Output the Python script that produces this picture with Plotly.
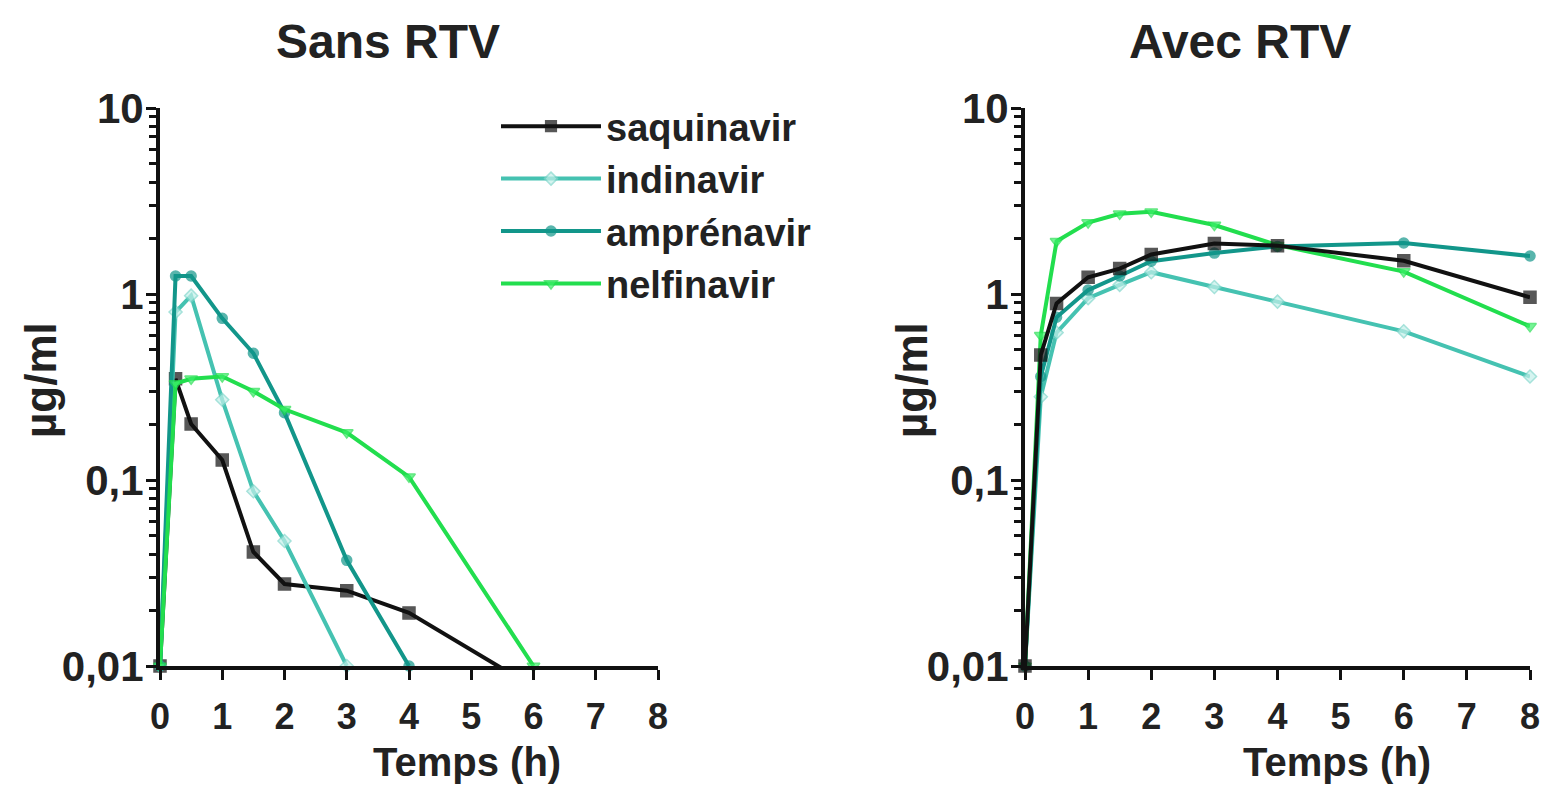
import plotly.graph_objects as go

# ---------------- data ----------------
drugs = ["saquinavir", "indinavir", "amprénavir", "nelfinavir"]

# Sans RTV (left panel)
t_saq_sans = [0, 0.25, 0.5, 1, 1.5, 2, 3, 4, 6]
v_saq_sans = [0.01, 0.35, 0.2, 0.128, 0.041, 0.0276, 0.0254, 0.0193, 0.0077]
t_ind_sans = [0, 0.25, 0.5, 1, 1.5, 2, 3]
v_ind_sans = [0.01, 0.8, 0.98, 0.27, 0.087, 0.047, 0.01]
t_amp_sans = [0, 0.25, 0.5, 1, 1.5, 2, 3, 4]
v_amp_sans = [0.01, 1.25, 1.25, 0.74, 0.48, 0.23, 0.037, 0.01]
t_nel_sans = [0, 0.25, 0.5, 1, 1.5, 2, 3, 4, 6]
v_nel_sans = [0.01, 0.33, 0.35, 0.36, 0.30, 0.24, 0.18, 0.104, 0.01]

# Avec RTV (right panel)
t_avec = [0, 0.25, 0.5, 1, 1.5, 2, 3, 4, 6, 8]
v_saq_avec = [0.01, 0.47, 0.89, 1.23, 1.37, 1.63, 1.87, 1.82, 1.51, 0.96]
v_ind_avec = [0.01, 0.28, 0.62, 0.95, 1.12, 1.31, 1.09, 0.91, 0.63, 0.36]
v_amp_avec = [0.01, 0.36, 0.75, 1.05, 1.25, 1.5, 1.66, 1.8, 1.88, 1.6]
v_nel_avec = [0.01, 0.6, 1.92, 2.42, 2.7, 2.77, 2.35, 1.83, 1.32, 0.67]

y_tickvals = [0.01, 0.1, 1, 10]
y_ticktext = ["0,01", "0,1", "1", "10"]
x_tickvals = [0, 1, 2, 3, 4, 5, 6, 7, 8]

# ---------------- styles ----------------
styles = {
    "saquinavir": dict(line="#111111", symbol="square", msize=12, mfill="#111111", mline="#111111"),
    "indinavir": dict(line="#45C2B1", symbol="diamond", msize=10, mfill="#C4F0EA", mline="#7FD6CB"),
    "amprénavir": dict(line="#12968A", symbol="circle", msize=10, mfill="#12968A", mline="#12968A"),
    "nelfinavir": dict(line="#22DE4E", symbol="triangle-down", msize=11, mfill="#3CF06A", mline="#22DE4E"),
}

FONT = "Liberation Sans, Arial, sans-serif"

fig = go.Figure()

def add(name, t, v, xa, ya, showlegend):
    s = styles[name]
    sizes = [s["msize"] if val >= 0.01 else 0 for val in v]
    fig.add_trace(go.Scatter(
        x=t, y=v, name=name, mode="lines+markers",
        xaxis=xa, yaxis=ya, showlegend=showlegend, legendgroup=name,
        line=dict(color=s["line"], width=4),
        marker=dict(symbol=s["symbol"], size=sizes, color=s["mfill"],
                    line=dict(color=s["mline"], width=1.5)),
        cliponaxis=False,
    ))

add("saquinavir", t_saq_sans, v_saq_sans, "x", "y", True)
add("indinavir", t_ind_sans, v_ind_sans, "x", "y", True)
add("amprénavir", t_amp_sans, v_amp_sans, "x", "y", True)
add("nelfinavir", t_nel_sans, v_nel_sans, "x", "y", True)

add("indinavir", t_avec, v_ind_avec, "x2", "y2", False)
add("amprénavir", t_avec, v_amp_avec, "x2", "y2", False)
add("nelfinavir", t_avec, v_nel_avec, "x2", "y2", False)
add("saquinavir", t_avec, v_saq_avec, "x2", "y2", False)

W, H = 1546, 786
def px_x(p):
    return p / W
def px_y(p):
    return 1 - p / H

minor_vals = [m * 10 ** e for e in (-2, -1, 0) for m in range(2, 10)]

common_x = dict(
    range=[0, 8], tickvals=x_tickvals, ticks="outside", ticklen=10, tickwidth=3,
    tickcolor="#111", showline=True, linecolor="#111", linewidth=4,
    showgrid=False, zeroline=False, automargin=False, ticklabelstandoff=6,
    tickfont=dict(family=FONT, size=36, color="#222", weight="bold"),
)
common_y = dict(
    type="log", range=[-2, 1], tickvals=y_tickvals, ticktext=y_ticktext,
    ticks="outside", ticklen=10, tickwidth=3, tickcolor="#111",
    showline=True, linecolor="#111", linewidth=4, showgrid=False, zeroline=False,
    automargin=False, ticklabelstandoff=-6,
    tickfont=dict(family=FONT, size=42, color="#222", weight="bold"),
    minor=dict(tickvals=minor_vals, ticks="outside", ticklen=7, tickwidth=2.5,
               tickcolor="#111", showgrid=False),
)

fig.update_layout(
    width=W, height=H,
    margin=dict(l=0, r=0, t=0, b=0, autoexpand=False),
    paper_bgcolor="white", plot_bgcolor="white",
    xaxis=dict(domain=[px_x(160), px_x(658)], anchor="y", **common_x),
    yaxis=dict(domain=[px_y(666), px_y(108)], anchor="x", **common_y),
    xaxis2=dict(domain=[px_x(1025), px_x(1530)], anchor="y2", **common_x),
    yaxis2=dict(domain=[px_y(666), px_y(108)], anchor="x2", **common_y),
    showlegend=True,
    legend=dict(
        x=px_x(496), y=px_y(95), xanchor="left", yanchor="top",
        font=dict(family=FONT, size=38, color="#222", weight="bold"),
        bgcolor="rgba(0,0,0,0)", tracegroupgap=0, itemwidth=100,
    ),
)

ann_font_title = dict(family=FONT, size=48, color="#222", weight="bold")
ann_font_axis = dict(family=FONT, size=40, color="#222", weight="bold")
ann_font_ylab = dict(family=FONT, size=44, color="#222", weight="bold")
annotations = [
    dict(text="Sans RTV", x=px_x(388), y=px_y(42), font=ann_font_title),
    dict(text="Avec RTV", x=px_x(1240), y=px_y(42), font=ann_font_title),
    dict(text="Temps (h)", x=px_x(467), y=px_y(762), font=ann_font_axis),
    dict(text="Temps (h)", x=px_x(1337), y=px_y(762), font=ann_font_axis),
    dict(text="µg/ml", x=px_x(40), y=px_y(380), font=ann_font_ylab, textangle=-90),
    dict(text="µg/ml", x=px_x(911), y=px_y(380), font=ann_font_ylab, textangle=-90),
]
for a in annotations:
    fig.add_annotation(xref="paper", yref="paper", showarrow=False,
                       xanchor="center", yanchor="middle", **a)

# remove the browser's default 8px body margin so the figure fills the window
fig.write_html(
    "out.html",
    config={"displayModeBar": False},
    post_script="document.body.style.margin='0';document.body.style.overflow='hidden';",
)
